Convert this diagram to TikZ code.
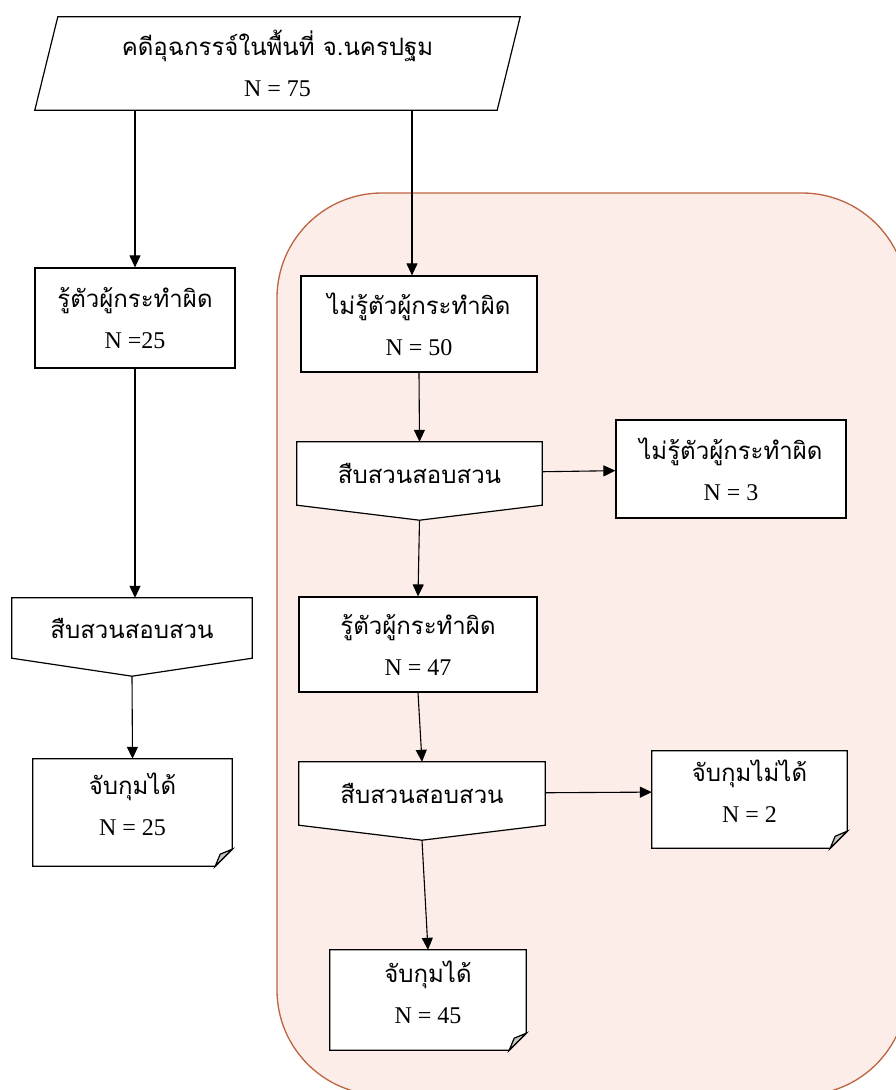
\documentclass[tikz,border=0pt]{standalone}
\usepackage{fontspec}
\setmainfont{Liberation Serif}
\newfontfamily\thaifont[Script=Thai]{Loma}
\usetikzlibrary{arrows.meta,calc,positioning}
\pgfdeclarelayer{edgelayer}
\pgfsetlayers{edgelayer,main}
\definecolor{groupfill}{RGB}{252,237,232}
\definecolor{groupline}{RGB}{190,98,66}
% two line label: thai text over the count
\newcommand{\tx}[2]{{\thaifont #1}\\[12pt]#2}
% off-page connector outline, #2 = depth of the point
\newcommand{\offpage}[2]{%
  \draw[line, fill=white] (#1.north west) -- (#1.north east) -- (#1.south east)
    -- ([yshift=-#2]#1.south) -- (#1.south west) -- cycle;}
% document outline with turned corner, the sheet reaches 16 below the node
\newcommand{\paper}[1]{%
  \draw[line, fill=white] (#1.north west) -- (#1.north east) -- ([yshift=1]#1.south east)
    -- ([xshift=-17,yshift=-16]#1.south east) -- ([yshift=-16]#1.south west) -- cycle;
  \draw[line, fill=gray!45] ([xshift=-17,yshift=-16]#1.south east)
    -- ([xshift=-12,yshift=-4]#1.south east) -- ([yshift=1]#1.south east) -- cycle;}

\begin{document}
\begin{tikzpicture}[x=1pt,y=-1pt,
  every node/.style={font=\fontsize{24}{29}\selectfont, align=center, inner sep=0pt},
  box/.style={draw, fill=white, line width=1.2pt},
  line/.style={line width=1.2pt},
  flow/.style={line width=1.1pt, -{Triangle[length=12pt,width=11pt]}}]
\useasboundingbox (0,0) rectangle (896,1090);
\clip (0,0) rectangle (896,1090);

\node[minimum width=485, minimum height=93] (case) at (277.5,63.5) {\tx{คดีอุฉกรรจ์ในพื้นที่ จ.นครปฐม}{N = 75}};
\node[box, minimum width=200, minimum height=100] (known) at (135,318) {\tx{รู้ตัวผู้กระทำผิด}{N =25}};
\node[minimum width=240, minimum height=60] (probeL) at (132,628) {\thaifont สืบสวนสอบสวน};
\node[minimum width=199, minimum height=91] (caughtL) at (132.5,804.5) {\tx{จับกุมได้}{N = 25}};

\node[box, minimum width=236, minimum height=96] (unknown) at (419,324) {\tx{ไม่รู้ตัวผู้กระทำผิด}{N = 50}};
\node[minimum width=245, minimum height=63] (probeA) at (419.5,473.5) {\thaifont สืบสวนสอบสวน};
\node[box, minimum width=230, minimum height=98] (stillUnknown) at (731,469) {\tx{ไม่รู้ตัวผู้กระทำผิด}{N = 3}};
\node[box, minimum width=238, minimum height=95] (found) at (418,644.5) {\tx{รู้ตัวผู้กระทำผิด}{N = 47}};
\node[minimum width=246, minimum height=63] (probeB) at (422,793.5) {\thaifont สืบสวนสอบสวน};
\node[minimum width=195, minimum height=81] (missed) at (749.5,791.5) {\tx{จับกุมไม่ได้}{N = 2}};
\node[minimum width=196, minimum height=84] (caughtR) at (428,992) {\tx{จับกุมได้}{N = 45}};

\coordinate (probeLtip) at ([yshift=-18]probeL.south);
\coordinate (probeAtip) at ([yshift=-15]probeA.south);
\coordinate (probeBtip) at ([yshift=-15]probeB.south);

\begin{pgfonlayer}{edgelayer}
\draw[groupline, fill=groupfill, line width=1.3pt, rounded corners=105] (277,193) rectangle (907,1095);
\draw[line, fill=white] ([xshift=23]case.north west) -- (case.north east)
  -- ([xshift=-23]case.south east) -- (case.south west) -- cycle;
\offpage{probeL}{18}
\offpage{probeA}{15}
\offpage{probeB}{15}
\paper{caughtL}
\paper{missed}
\paper{caughtR}
\end{pgfonlayer}

\path[flow]
(known |- case.south) edge (known.north)
([xshift=-7]unknown |- case.south) edge ([xshift=-7]unknown.north)
(known.south) edge (known |- probeL.north)
(probeLtip) edge (caughtL.north)
(unknown.south) edge (probeA.north)
(probeA) edge (stillUnknown)
(probeAtip) edge (found.north)
(found.south) edge (probeB.north)
(probeB) edge (missed)
(probeBtip) edge (caughtR.north);
\end{tikzpicture}
\end{document}
